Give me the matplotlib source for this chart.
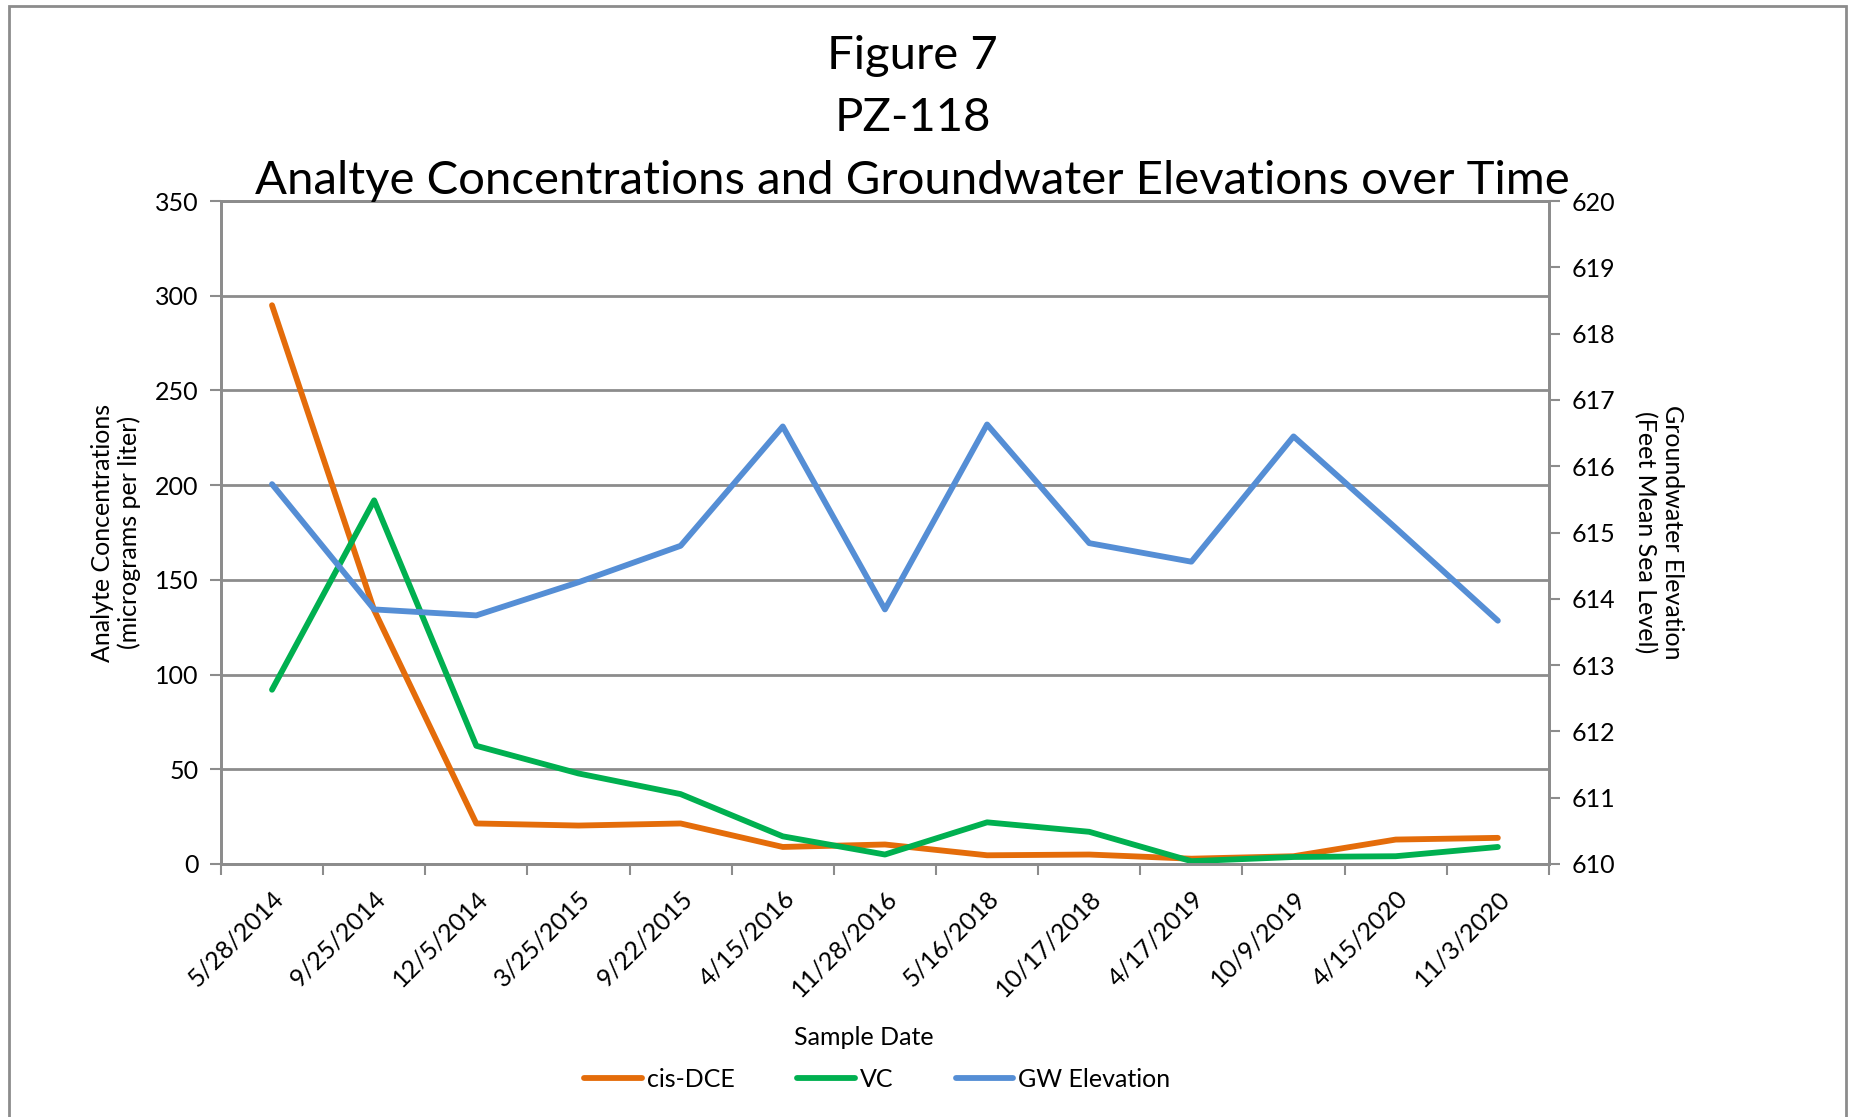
import matplotlib.pyplot as plt
from matplotlib.patches import Rectangle
import numpy as np

# sample dates (categorical axis)
dates = ["5/28/2014", "9/25/2014", "12/5/2014", "3/25/2015", "9/22/2015",
         "4/15/2016", "11/28/2016", "5/16/2018", "10/17/2018", "4/17/2019",
         "10/9/2019", "4/15/2020", "11/3/2020"]
cis_dce = [295, 134, 21.4, 20.3, 21.4, 9.0, 10.3, 4.6, 5.0, 2.8, 4.1, 12.9, 13.8]
vc = [92, 192, 62.4, 47.8, 36.9, 14.6, 5.0, 22, 17, 1.5, 3.7, 4.1, 9.0]
gw_elev = [615.73, 613.84, 613.75, 614.25, 614.80, 616.60, 613.84,
           616.63, 614.84, 614.56, 616.45, 615.07, 613.67]

plt.rcParams['font.family'] = ['Lato', 'DejaVu Sans']

grey = "#8c8c8c"
fig = plt.figure(figsize=(18.55, 11.17), dpi=100)
ax = fig.add_axes([0.1191, 0.2265, 0.7159, 0.5935])
ax2 = ax.twinx()

x = np.arange(len(dates))
l1, = ax.plot(x, cis_dce, color="#E46C0A", lw=4.2, solid_capstyle="round", label="cis-DCE")
l2, = ax.plot(x, vc, color="#00B050", lw=4.2, solid_capstyle="round", label="VC")
l3, = ax2.plot(x, gw_elev, color="#558ED5", lw=4.2, solid_capstyle="round", label="GW Elevation")

ax.set_xlim(-0.5, len(dates) - 0.5)
ax.set_ylim(0, 350)
ax.set_yticks(np.arange(0, 351, 50))
ax2.set_ylim(610, 620)
ax2.set_yticks(np.arange(610, 621, 1))

ax.set_xticks(x)
ax.set_xticklabels(dates, rotation=45, ha="right", rotation_mode="anchor", fontsize=18)
ax.set_xticks(np.arange(-0.5, len(dates), 1), minor=True)
ax.tick_params(axis="x", which="major", length=0, pad=16)
ax.tick_params(axis="x", which="minor", length=8, width=1.5, color=grey)
ax.tick_params(axis="y", length=8, width=1.5, color=grey, labelsize=18, pad=8)
ax2.tick_params(axis="y", length=8, width=1.5, color=grey, labelsize=18, pad=8)

ax.grid(axis="y", color=grey, lw=2)
ax.set_axisbelow(True)
for a in (ax, ax2):
    for s in a.spines.values():
        s.set_color(grey)
        s.set_linewidth(2)

ax.set_ylabel("Analyte Concentrations\n(micrograms per liter)", fontsize=18, labelpad=10)
ax2.set_ylabel("Groundwater Elevation\n(Feet Mean Sea Level)", fontsize=18,
               rotation=270, labelpad=50)
ax.set_xlabel("Sample Date", fontsize=18)
ax.xaxis.set_label_coords(0.484, -0.245)

fig.text(0.492, 0.95, "Figure 7", ha="center", va="center", fontsize=34)
fig.text(0.492, 0.894, "PZ-118", ha="center", va="center", fontsize=34)
fig.text(0.492, 0.838, "Analtye Concentrations and Groundwater Elevations over Time",
         ha="center", va="center", fontsize=34)

fig.legend(handles=[l1, l2, l3], loc="center", bbox_to_anchor=(0.473, 0.034),
           ncol=3, frameon=False, fontsize=18, handlelength=2.3, columnspacing=2.5,
           handletextpad=0.2)

fig.patches.append(Rectangle((0.005, -0.05), 0.99, 1.045, transform=fig.transFigure,
                             fill=False, edgecolor=grey, lw=2))

fig.savefig("out.png", dpi=100)
